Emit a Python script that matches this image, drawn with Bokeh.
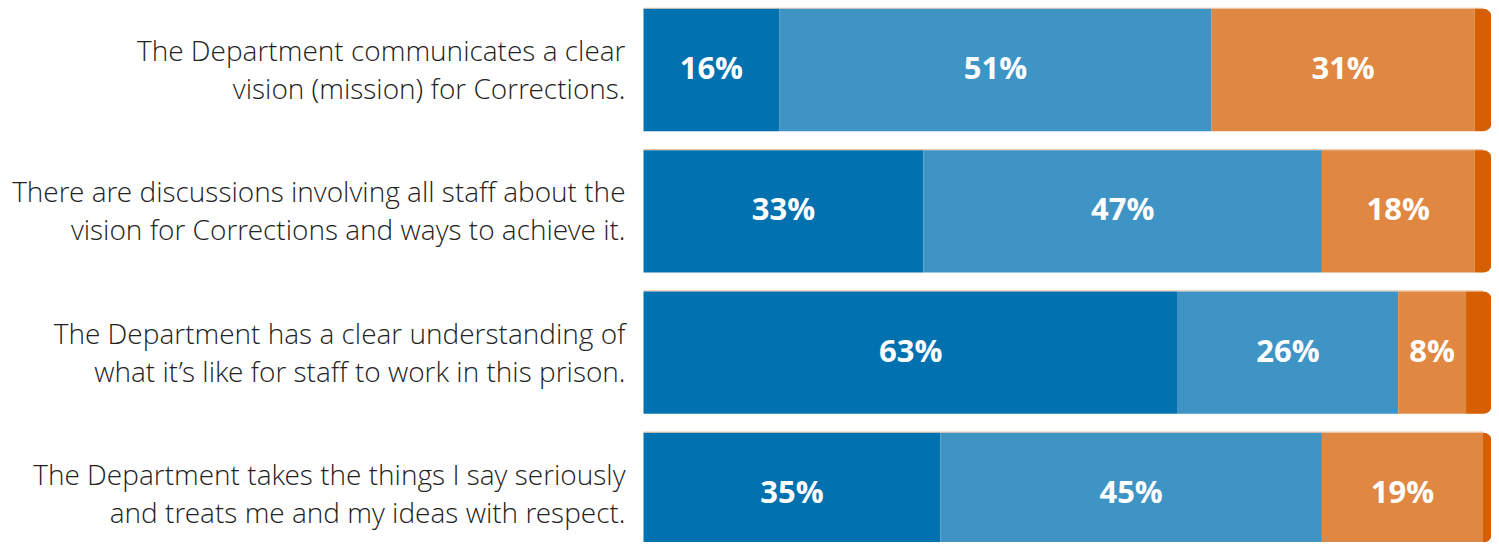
from bokeh.plotting import figure
from bokeh.models import ColumnDataSource, Range1d
from bokeh.core.properties import value
from bokeh.embed import file_html
from bokeh.resources import INLINE

questions_line1 = [
    "The Department communicates a clear",
    "There are discussions involving all staff about the",
    "The Department has a clear understanding of",
    "The Department takes the things I say seriously",
]
questions_line2 = [
    "vision (mission) for Corrections.",
    "vision for Corrections and ways to achieve it.",
    "what it\u2019s like for staff to work in this prison.",
    "and treats me and my ideas with respect.",
]
strongly_agree = [16, 33, 63, 35]
agree = [51, 47, 26, 45]
disagree = [31, 18, 8, 19]
strongly_disagree = [2, 2, 3, 1]

series = [strongly_agree, agree, disagree, strongly_disagree]
colors = ["#0271AF", "#3F94C6", "#E08841", "#D55F02"]
rows = list(range(len(strongly_agree)))

W, H = 1491, 542
p = figure(width=W, height=H, output_backend="svg", toolbar_location=None,
           x_axis_type=None, y_axis_type=None,
           x_range=Range1d(-643 / 8.48, 100), y_range=Range1d(3.344, -0.492),
           min_border=0, min_border_left=0, min_border_right=0,
           min_border_top=0, min_border_bottom=0)
p.outline_line_color = None
p.grid.visible = False
p.background_fill_color = "white"

bar_h = 0.866

# thin light line on the top edge of each bar
p.segment(x0=[0] * len(rows), x1=[99] * len(rows),
          y0=[r - bar_h / 2 - 0.004 for r in rows], y1=[r - bar_h / 2 - 0.004 for r in rows],
          line_color="#F0C6A6", line_width=1.2)

lefts = [0] * len(rows)
for k, (vals, col) in enumerate(zip(series, colors)):
    rights = [l + v for l, v in zip(lefts, vals)]
    src = ColumnDataSource(dict(y=rows, left=lefts, right=rights,
                                mid=[(l + r) / 2 for l, r in zip(lefts, rights)],
                                lab=[f"{v}%" for v in vals]))
    if k == len(series) - 1:
        p.hbar(y="y", left="left", right="right", height=bar_h, source=src,
               fill_color=col, line_color=None, border_radius=(0, 8, 8, 0))
    else:
        p.hbar(y="y", left="left", right="right", height=bar_h, source=src,
               fill_color=col, line_color=None)
        p.text(x="mid", y="y", text="lab", source=src, text_align="center",
               text_baseline="middle", text_color="white", text_font_size="31px",
               text_font_style="bold", text_font=value("Open Sans"), y_offset=-3)
    lefts = rights

lsrc = ColumnDataSource(dict(y=rows, l1=questions_line1, l2=questions_line2, x=[0] * len(rows)))
p.text(x="x", y="y", text="l1", source=lsrc, x_offset=-18, y_offset=-20,
       text_align="right", text_baseline="middle", text_color="#222222",
       text_font_size="28px", text_font=value("Open Sans Light"))
p.text(x="x", y="y", text="l2", source=lsrc, x_offset=-18, y_offset=18,
       text_align="right", text_baseline="middle", text_color="#222222",
       text_font_size="28px", text_font=value("Open Sans Light"))

open("out.html", "w").write(file_html(p, INLINE))
